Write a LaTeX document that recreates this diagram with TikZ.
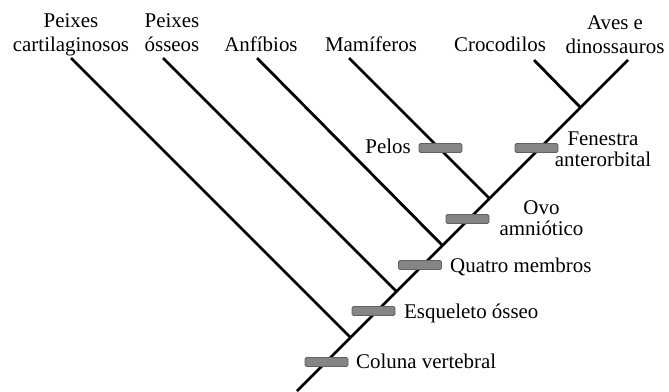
\documentclass[tikz,border=0pt]{standalone}
\usepackage{fontspec}
\setmainfont{Liberation Serif}
\begin{document}
\begin{tikzpicture}[x=1bp,y=-1bp,
  branch/.style={line width=2.8bp},
  bar/.style={draw=black!62, fill=black!48, line width=0.9bp, rounded corners=1.6bp,
    minimum width=43bp, minimum height=9bp, inner sep=0pt},
  lab/.style={font=\fontsize{21}{24}\selectfont, inner sep=0pt, align=center},
  rlab/.style={font=\fontsize{21}{21}\selectfont, inner sep=0pt, align=center}]
\useasboundingbox (0,0) rectangle (669,391);
% junctions and ends
\coordinate (root) at (297,391);
\coordinate (j1) at (350,337);
\coordinate (j2) at (396,291);
\coordinate (j3) at (442,245);
\coordinate (j4) at (489,198);
\coordinate (j5) at (580,107);
\coordinate (t1) at (71,58);
\coordinate (t2) at (163,58);
\coordinate (t3) at (257,58);
\coordinate (t4) at (349,58);
\coordinate (t5) at (534,60);
\coordinate (t6) at (628,60);
% branches
\draw[branch] (root) -- (t6);
\draw[branch] (j1) -- (t1);
\draw[branch] (j2) -- (t2);
\draw[branch] (j3) -- (t3);
\draw[branch] (j4) -- (t4);
\draw[branch] (j5) -- (t5);
% taxa labels
\node[lab, anchor=base] (n1) at (71,51) {Peixes\\cartilaginosos};
\node[lab, anchor=base] (n2) at (172,51) {Peixes\\ósseos};
\node[lab, anchor=base] (n3) at (261,51) {Anfíbios};
\node[lab, anchor=base] (n4) at (371,51) {Mamíferos};
\node[lab, anchor=base] (n5) at (500,51) {Crocodilos};
\node[lab, anchor=base] (n6) at (615,53) {Aves e\\dinossauros};
% character bars
\node[bar] (b1) at (326.5,362) {};
\node[bar] (b2) at (373.5,311) {};
\node[bar] (b3) at (420,265) {};
\node[bar] (b4) at (467.5,219) {};
\node[bar] (b5) at (440.5,148) {};
\node[bar] (b6) at (536.5,148) {};
% character labels
\node[rlab, anchor=base west] (c1) at (356,368) {Coluna vertebral};
\node[rlab, anchor=base west] (c2) at (404,318) {Esqueleto ósseo};
\node[rlab, anchor=base west] (c3) at (450,272) {Quatro membros};
\node[rlab, anchor=base] (c4) at (541.5,235) {Ovo\\amniótico};
\node[rlab, anchor=base east] (c5) at (411,153) {Pelos};
\node[rlab, anchor=base] (c6) at (603,166) {Fenestra\\anterorbital};
\end{tikzpicture}
\end{document}
